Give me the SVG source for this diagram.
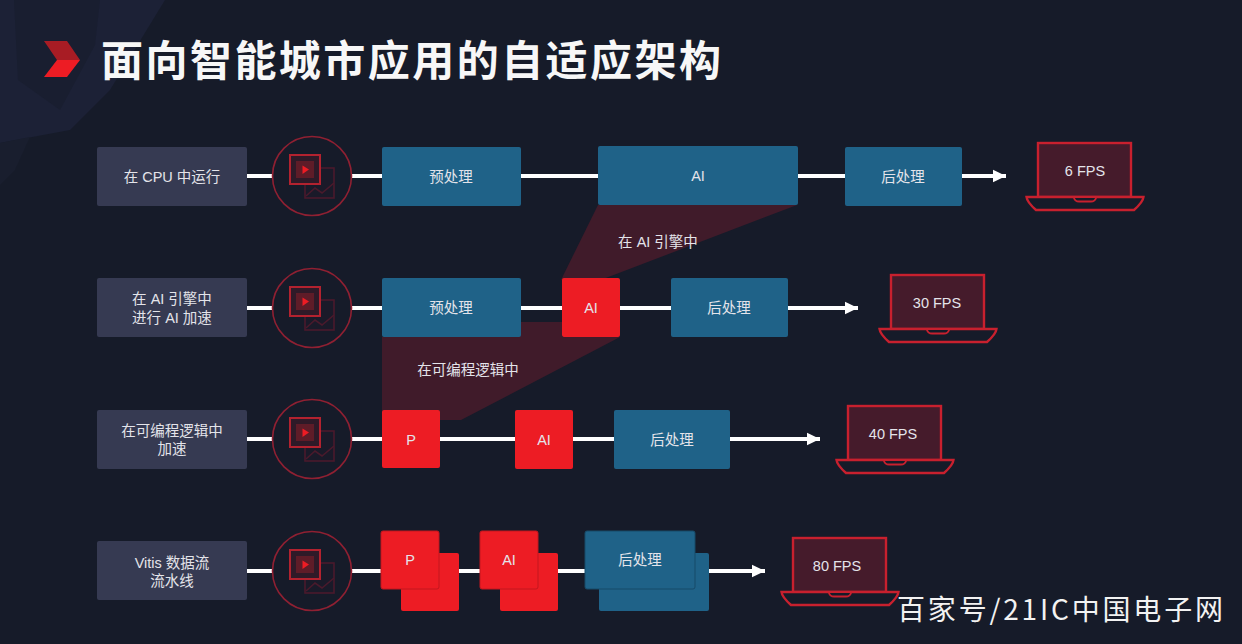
<svg xmlns="http://www.w3.org/2000/svg" xmlns:xlink="http://www.w3.org/1999/xlink" width="1242" height="644" viewBox="0 0 1242 644">
<style>
text{font-family:"Liberation Sans","Noto Sans CJK SC",sans-serif;fill:#e4e4ea;font-size:14.5px;text-anchor:middle}
.lab{fill:#363a52}
.blue{fill:#1f6288}
.red{fill:#ed1c24}
.wire{stroke:#fff;stroke-width:4;fill:none}
.ring{fill:#161b29;stroke:#8f2032;stroke-width:1.6}
.lap{fill:#451b2b;stroke:#c8202e;stroke-width:2.4}
.base{fill:#161b29;stroke:#c8202e;stroke-width:2.4}
.hl{fill:#401b2a}
</style>
<defs>
<marker id="arr" markerUnits="userSpaceOnUse" markerWidth="14" markerHeight="14" refX="13.500" refY="7" orient="auto"><path d="M0 0.500L13.500 7L0 13.500z" fill="#fff"/></marker>
<g id="cam">
<circle class="ring" cx="0" cy="0" r="39.5"/>
<rect x="-7" y="-8" width="29" height="30" fill="#1a1a29" stroke="#4a1a2c" stroke-width="1.6"/>
<path d="M-6 20L3 12L10 17L22 7" fill="none" stroke="#4a1a2c" stroke-width="1.6"/>
<rect x="-22" y="-21" width="30" height="29" fill="#2f1a28" stroke="#b3222f" stroke-width="2"/>
<rect x="-16" y="-15" width="18" height="17" fill="#5f1c28"/>
<path d="M-9.500 -10.500L-3 -6.500L-9.500 -2z" fill="#ed1c24"/>
</g>
<g id="laptop">
<rect class="lap" x="12" y="1" width="93" height="54"/>
<path class="base" d="M0.500 55H117.500Q117 60 108 68H10Q1 60 0.500 55Z"/>
<path d="M48 55H70V56Q69 59.500 65 59.500H53Q49 59.500 48 56Z" fill="#161b29" stroke="#c8202e" stroke-width="1.800"/>
</g>
</defs>
<rect width="1242" height="644" fill="#161b29"/>
<g id="backdrop">
<path d="M0 0H165L110 90L70 130L0 143Z" fill="#1c2136"/>
<path d="M14 0H100L95 45L60 110L18 80Z" fill="#191e30"/>
<path d="M0 143L30 137L15 170L0 185Z" fill="#191e2e"/>
</g>
<g id="highlights">
<path class="hl" d="M598 205H797L590 284L561 280Z"/>
<path class="hl" d="M382 337L521 322H562V337H620L461 420H382Z"/>
</g>
<g id="connectors">
<path class="wire" d="M247 176H273M352 176H382M521 176H598M798 176H845"/>
<path class="wire" d="M962 176H1006" marker-end="url(#arr)"/>
<path class="wire" d="M247 308H273M352 308H382M521 308H562M620 308H671"/>
<path class="wire" d="M788 308H858" marker-end="url(#arr)"/>
<path class="wire" d="M247 439H273M352 439H382M440 439H515M573 439H614"/>
<path class="wire" d="M730 439H820" marker-end="url(#arr)"/>
<path class="wire" d="M247 571H273M352 571H381M459 571H480M558 571H585"/>
<path class="wire" d="M709 571H765" marker-end="url(#arr)"/>
</g>
<g id="title">
<path d="M44 41H67L80 60H57Z" fill="#a81c24"/>
<path d="M44 77H67L80 60H57Z" fill="#ed1c24"/>
<text x="411" y="76" style="font-size:42px;font-weight:700;fill:#f7f7f7;font-family:'Noto Sans CJK SC',sans-serif" textLength="620" lengthAdjust="spacing">面向智能城市应用的自适应架构</text>
</g>
<g id="row1">
<g id="r1-label"><rect class="lab" x="97" y="147" width="150" height="59" rx="2"/><text x="172" y="182">在 CPU 中运行</text></g>
<use id="r1-cam" href="#cam" x="312" y="176"/>
<g id="r1-pre"><rect class="blue" x="382" y="147" width="139" height="59" rx="2"/><text x="451" y="182">预处理</text></g>
<g id="r1-ai"><rect class="blue" x="598" y="146" width="200" height="59" rx="2"/><text x="698" y="181">AI</text></g>
<g id="r1-post"><rect class="blue" x="845" y="147" width="117" height="59" rx="2"/><text x="903" y="182">后处理</text></g>
<g id="r1-out"><use href="#laptop" x="1026" y="142"/><text x="1085" y="176">6 FPS</text></g>
</g>
<g id="note1"><text x="658" y="247">在 AI 引擎中</text></g>
<g id="row2">
<g id="r2-label"><rect class="lab" x="97" y="278" width="150" height="59" rx="2"/><text x="172" y="304">在 AI 引擎中</text><text x="172" y="323">进行 AI 加速</text></g>
<use id="r2-cam" href="#cam" x="312" y="308"/>
<g id="r2-pre"><rect class="blue" x="382" y="278" width="139" height="59" rx="2"/><text x="451" y="313">预处理</text></g>
<g id="r2-ai"><rect class="red" x="562" y="278" width="58" height="59" rx="2"/><text x="591" y="313">AI</text></g>
<g id="r2-post"><rect class="blue" x="671" y="278" width="117" height="59" rx="2"/><text x="729" y="313">后处理</text></g>
<g id="r2-out"><use href="#laptop" x="879" y="274"/><text x="937" y="308">30 FPS</text></g>
</g>
<g id="note2"><text x="468" y="375">在可编程逻辑中</text></g>
<g id="row3">
<g id="r3-label"><rect class="lab" x="97" y="410" width="150" height="59" rx="2"/><text x="172" y="436">在可编程逻辑中</text><text x="172" y="454">加速</text></g>
<use id="r3-cam" href="#cam" x="312" y="439"/>
<g id="r3-p"><rect class="red" x="382" y="410" width="58" height="58" rx="2"/><text x="411" y="445">P</text></g>
<g id="r3-ai"><rect class="red" x="515" y="410" width="58" height="59" rx="2"/><text x="544" y="445">AI</text></g>
<g id="r3-post"><rect class="blue" x="614" y="410" width="116" height="59" rx="2"/><text x="672" y="445">后处理</text></g>
<g id="r3-out"><use href="#laptop" x="836" y="405"/><text x="893" y="439">40 FPS</text></g>
</g>
<g id="row4">
<g id="r4-label"><rect class="lab" x="97" y="541" width="150" height="59" rx="2"/><text x="172" y="568">Vitis 数据流</text><text x="172" y="586">流水线</text></g>
<use id="r4-cam" href="#cam" x="312" y="571"/>
<g id="r4-p"><rect class="red" x="401" y="553" width="58" height="58" rx="2"/><rect class="red" x="381" y="531" width="58" height="58" rx="2" stroke="#c3161e" stroke-width="1"/><text x="410" y="565">P</text></g>
<g id="r4-ai"><rect class="red" x="500" y="553" width="58" height="58" rx="2"/><rect class="red" x="480" y="531" width="58" height="58" rx="2" stroke="#c3161e" stroke-width="1"/><text x="509" y="565">AI</text></g>
<g id="r4-post"><rect class="blue" x="599" y="553" width="110" height="58" rx="2"/><rect class="blue" x="585" y="531" width="110" height="58" rx="2" stroke="#174a68" stroke-width="1"/><text x="640" y="565">后处理</text></g>
<g id="r4-out"><use href="#laptop" x="781" y="537"/><text x="837" y="571">80 FPS</text></g>
</g>
<g id="watermark"><text x="1060" y="620" style="font-size:28px;fill:#f2f2f2;font-family:'Noto Sans CJK SC',sans-serif" textLength="326" lengthAdjust="spacing">百家号/21IC中国电子网</text></g>
</svg>
